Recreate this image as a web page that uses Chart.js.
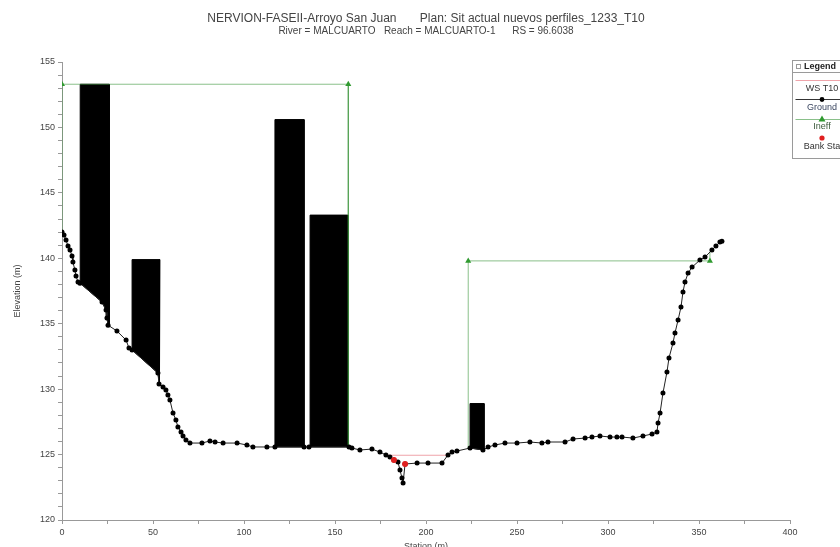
<!DOCTYPE html>
<html>
<head>
<meta charset="utf-8">
<title>NERVION-FASEII - Arroyo San Juan</title>
<script src="https://cdn.jsdelivr.net/npm/chart.js@4.4.1/dist/chart.umd.min.js"></script>
<style>
  html, body { margin: 0; padding: 0; background: #fff; overflow: hidden; }
  .wrap { position: relative; width: 840px; height: 556px; }
</style>
</head>
<body>
<div class="wrap"><canvas id="xsChart"></canvas></div>
<script>
/* ============================================================
   HEC-RAS cross section — MALCUARTO RS 96.6038
   ============================================================ */

// ── Data ────────────────────────────────────────────────────
const groundSta  = [0, 1.1, 2.2, 3.3, 4.4, 5.5, 6.0, 7.1, 7.7, 8.8, 9.9, 22.0, 24.2, 24.7, 25.3,
                    30.2, 35.2, 36.8, 38.5, 52.7, 53.3, 55.5, 57.1, 58.2, 59.3, 61.0, 62.6, 63.7,
                    65.4, 66.5, 68.1, 70.3, 76.9, 81.3, 84.1, 88.5, 96.2, 101.6, 104.9, 112.6,
                    117.0, 133.0, 135.7, 157.7, 159.3, 163.7, 170.3, 174.7, 178.0, 180.2, 182.4,
                    184.6, 185.7, 186.8, 187.4, 188.5, 195.1, 201.1, 208.8, 212.1, 214.3, 217.0,
                    224.2, 231.3, 234.1, 237.9, 243.4, 250.0, 257.1, 263.7, 267.0, 276.4, 280.8,
                    287.4, 291.2, 295.6, 301.1, 304.9, 307.7, 313.7, 319.2, 324.2, 326.9, 327.5,
                    328.6, 330.2, 332.4, 333.5, 335.7, 336.8, 338.5, 340.1, 341.2, 342.3, 344.0,
                    346.2, 350.5, 353.3, 357.1, 359.3, 361.5, 362.6];
const groundElev = [142.0, 141.77, 141.39, 140.93, 140.63, 140.17, 139.71, 139.10, 138.64, 138.18,
                    138.10, 136.65, 136.04, 135.43, 134.89, 134.44, 133.75, 133.14, 132.99, 131.23,
                    130.39, 130.16, 129.93, 129.55, 129.17, 128.17, 127.64, 127.10, 126.72, 126.42,
                    126.11, 125.88, 125.88, 126.04, 125.96, 125.88, 125.88, 125.73, 125.58, 125.58,
                    125.58, 125.58, 125.58, 125.58, 125.50, 125.35, 125.42, 125.19, 124.97, 124.81,
                    124.58, 124.43, 123.82, 123.21, 122.83, 124.28, 124.35, 124.35, 124.35, 124.97,
                    125.19, 125.27, 125.50, 125.35, 125.58, 125.73, 125.88, 125.88, 125.96, 125.88,
                    125.96, 125.96, 126.19, 126.26, 126.34, 126.42, 126.34, 126.34, 126.34, 126.26,
                    126.42, 126.57, 126.72, 127.41, 128.17, 129.70, 131.31, 132.38, 133.52, 134.29,
                    135.28, 136.27, 137.42, 138.18, 138.87, 139.33, 139.86, 140.09, 140.63, 140.93,
                    141.24, 141.31];

// blocked obstructions
const obstrStart = [10.0, 38.5, 117.0, 136.3, 224.2];
const obstrEnd   = [26.0, 53.8, 133.0, 157.1, 231.9];
const obstrTop   = [153.3, 139.9, 150.6, 143.3, 128.9];

// ineffective flow areas
const ineffStart = [0, 223.2];
const ineffEnd   = [157.3, 356.0];
const ineffElev  = [153.3, 139.8];

const bankSta = [182.4, 188.5];
const wsElev  = 124.95;

const xTickValues = [0, 50, 100, 150, 200, 250, 300, 350, 400];
const yTickValues = [120, 125, 130, 135, 140, 145, 150, 155];

const TITLE    = 'NERVION-FASEII-Arroyo San Juan       Plan: Sit actual nuevos perfiles_1233_T10';
const SUBTITLE = 'River = MALCUARTO   Reach = MALCUARTO-1      RS = 96.6038';

// ── Helpers ─────────────────────────────────────────────────
function groundAt(s) {
    for (let i = 1; i < groundSta.length; i++) {
        if (s <= groundSta[i]) {
            const t = (s - groundSta[i - 1]) / (groundSta[i] - groundSta[i - 1]);
            return groundElev[i - 1] + t * (groundElev[i] - groundElev[i - 1]);
        }
    }
    return groundElev[groundElev.length - 1];
}

// closed outline: top edge, then back along the ground
function obstructionShape(i) {
    const s1 = obstrStart[i], s2 = obstrEnd[i], top = obstrTop[i];
    const pts = [{ x: s1, y: top }, { x: s2, y: top }, { x: s2, y: groundAt(s2) }];
    for (let k = groundSta.length - 1; k >= 0; k--) {
        if (groundSta[k] > s1 && groundSta[k] < s2) pts.push({ x: groundSta[k], y: groundElev[k] });
    }
    pts.push({ x: s1, y: groundAt(s1) }, { x: s1, y: top });
    return pts;
}

function ineffShape(i) {
    const s1 = ineffStart[i], s2 = ineffEnd[i], el = ineffElev[i];
    return [{ x: s1, y: groundAt(s1) }, { x: s1, y: el }, { x: s2, y: el }, { x: s2, y: groundAt(s2) }];
}

// water surface between the two ground crossings around the channel
function wsLine() {
    const mid = groundSta.findIndex(s => s >= bankSta[0]);
    let l = mid, r = mid;
    while (l > 0 && groundElev[l] < wsElev) l--;
    while (r < groundSta.length - 1 && groundElev[r] < wsElev) r++;
    const cross = (a, b) => groundSta[a] + (wsElev - groundElev[a]) /
        (groundElev[b] - groundElev[a]) * (groundSta[b] - groundSta[a]);
    return [{ x: cross(l, l + 1), y: wsElev }, { x: cross(r - 1, r), y: wsElev }];
}

// ── Right-hand legend box (clipped by the canvas edge) ───────
const FONT = '"Liberation Sans", Arial, sans-serif';
const legendBox = {
    id: 'legendBox',
    afterDraw(chart) {
        const c = chart.ctx;
        const x0 = 792.5, y0 = 60.5, w = 62, h = 98, cx = 822;
        c.save();
        c.fillStyle = '#fff';
        c.fillRect(x0, y0, w, h);
        c.strokeStyle = '#9a9a9a';
        c.lineWidth = 1;
        c.strokeRect(x0, y0, w, h);
        c.strokeRect(796.5, 64.5, 4, 4);
        c.beginPath(); c.moveTo(x0, 72.5); c.lineTo(x0 + w, 72.5); c.stroke();

        c.textBaseline = 'middle';
        c.fillStyle = '#222';
        c.font = 'bold 9px ' + FONT;
        c.fillText('Legend', 804, 67);

        c.font = '9px ' + FONT;
        c.textAlign = 'center';
        // WS T10
        c.strokeStyle = 'rgba(225,90,100,0.55)';
        c.beginPath(); c.moveTo(x0 + 3, 80.5); c.lineTo(x0 + w, 80.5); c.stroke();
        c.fillStyle = '#333';
        c.fillText('WS T10', cx, 89);
        // Ground
        c.strokeStyle = '#333';
        c.beginPath(); c.moveTo(x0 + 3, 99.5); c.lineTo(x0 + w, 99.5); c.stroke();
        c.fillStyle = '#000';
        c.beginPath(); c.arc(cx, 99.5, 2.4, 0, Math.PI * 2); c.fill();
        c.fillStyle = '#3a4660';
        c.fillText('Ground', cx, 108);
        // Ineff
        c.strokeStyle = 'rgba(60,150,60,0.6)';
        c.beginPath(); c.moveTo(x0 + 3, 119.5); c.lineTo(x0 + w, 119.5); c.stroke();
        c.fillStyle = '#2f9a2f';
        c.beginPath(); c.moveTo(cx, 115.5); c.lineTo(cx + 3.5, 121.5); c.lineTo(cx - 3.5, 121.5); c.closePath(); c.fill();
        c.fillStyle = '#3d5a3d';
        c.fillText('Ineff', cx, 127);
        // Bank Sta
        c.fillStyle = '#e02020';
        c.beginPath(); c.arc(cx, 138, 2.6, 0, Math.PI * 2); c.fill();
        c.fillStyle = '#333';
        c.fillText('Bank Sta', cx, 147);
        c.restore();
    }
};

// ── Chart ───────────────────────────────────────────────────
Chart.defaults.font.family = FONT;

const datasets = [
    {
        label: 'Bank Sta', order: 0, showLine: false,
        data: bankSta.map(s => ({ x: s, y: groundAt(s) })),
        pointRadius: 3, pointBackgroundColor: '#e02020', pointBorderWidth: 0
    },
    {
        label: 'Ground', order: 1,
        data: groundSta.map((s, i) => ({ x: s, y: groundElev[i] })),
        borderColor: '#222', borderWidth: 1,
        pointRadius: 2.5, pointBackgroundColor: '#000', pointBorderWidth: 0
    },
    {
        label: 'WS T10', order: 2, data: wsLine(),
        borderColor: 'rgba(225,90,100,0.55)', borderWidth: 1.2, pointRadius: 0
    }
];

ineffStart.forEach((_, i) => datasets.push({
    label: 'Ineff', order: 3, data: ineffShape(i),
    borderColor: 'rgba(60,150,60,0.6)', borderWidth: 1,
    pointStyle: 'triangle',
    pointRadius: ctx => (ctx.dataIndex === 1 || ctx.dataIndex === 2) ? 3.5 : 0,
    pointBackgroundColor: '#2f9a2f', pointBorderWidth: 0
}));

obstrStart.forEach((_, i) => datasets.push({
    label: 'Obstruction', order: 4, data: obstructionShape(i),
    borderColor: '#000', borderWidth: 1, backgroundColor: '#000',
    fill: 'shape', pointRadius: 0
}));

new Chart(document.getElementById('xsChart'), {
    type: 'line',
    data: { datasets },
    plugins: [legendBox],
    options: {
        responsive: true,
        maintainAspectRatio: false,
        animation: false,
        layout: { padding: { left: 0, right: 50, top: 0, bottom: 0 } },
        plugins: {
            legend: { display: false },
            tooltip: { enabled: false },
            title: {
                display: true, text: TITLE, fullSize: false, color: '#444',
                font: { size: 12, weight: 'normal' }, padding: { top: 11, bottom: 0 }
            },
            subtitle: {
                display: true, text: SUBTITLE, fullSize: false, color: '#444',
                font: { size: 10 }, padding: { top: 0, bottom: 24.6 }
            }
        },
        scales: {
            x: {
                type: 'linear', min: 0, max: 400,
                afterFit: s => { s.height = 36; },
                ticks: {
                    stepSize: 25, autoSkip: false, maxRotation: 0, color: '#444', font: { size: 9 },
                    callback: v => xTickValues.includes(v) ? v : ''
                },
                grid: { drawOnChartArea: false, tickLength: 4, color: '#999' },
                border: { color: '#999' },
                title: { display: true, text: 'Station (m)', color: '#444', font: { size: 9 }, padding: 4 }
            },
            y: {
                type: 'linear', min: 120, max: 155,
                afterFit: s => { s.width = 62; },
                ticks: {
                    stepSize: 1, autoSkip: false, color: '#444', font: { size: 9 },
                    callback: v => yTickValues.includes(v) ? v : ''
                },
                grid: { drawOnChartArea: false, tickLength: 4, color: '#999' },
                border: { color: '#999' },
                title: { display: true, text: 'Elevation (m)', color: '#444', font: { size: 9 }, padding: 12 }
            }
        }
    }
});
</script>
</body>
</html>
